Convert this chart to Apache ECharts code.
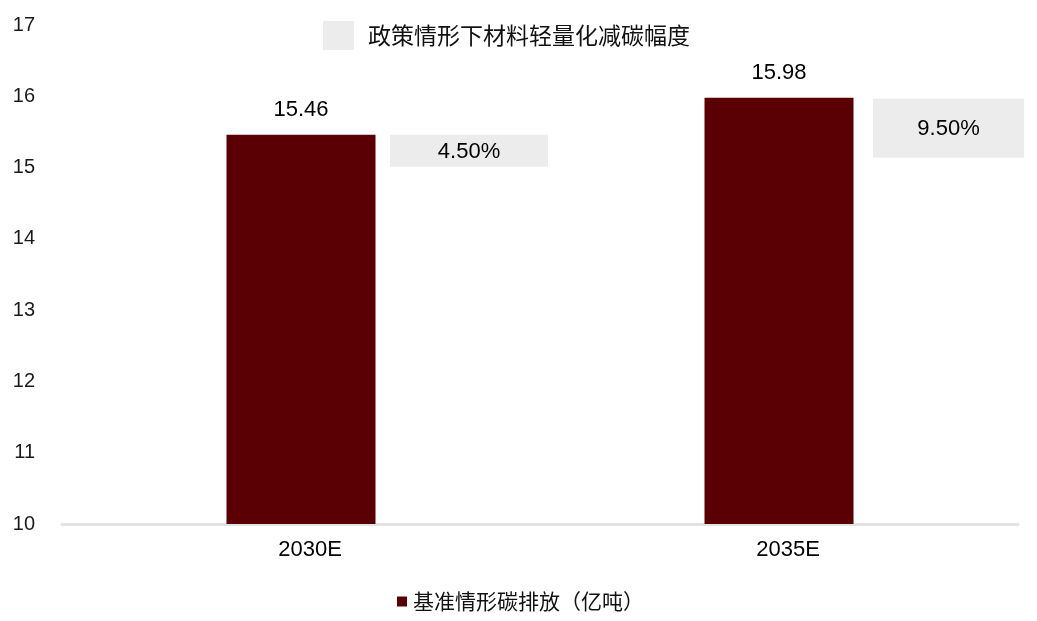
<!DOCTYPE html>
<html>
<head>
<meta charset="utf-8">
<script src="https://cdn.jsdelivr.net/npm/echarts@6/dist/echarts.min.js"></script>
<style>html,body{margin:0;padding:0;background:#fff;}#c{width:1037px;height:621px;}</style>
</head>
<body>
<div id="c"></div>
<script>
// ---- data ----
const categories = ['2030E', '2035E'];
const baselineEmission = [15.46, 15.98];        // 基准情形碳排放（亿吨）
const reductionPct = [4.5, 9.5];                 // 政策情形下材料轻量化减碳幅度 (%)
const yTicks = [10, 11, 12, 13, 14, 15, 16, 17];

const baseName = '基准情形碳排放（亿吨）';
const redName = '政策情形下材料轻量化减碳幅度';

// styling of the grey callout boxes (pixels, relative to bar top centre)
const boxOffX = [89, 94];
const boxDY = [0, 1];
const boxW = [158, 151];
const boxH = [32, 59];

const chart = echarts.init(document.getElementById('c'));
const numFont = '"Liberation Sans", Arial, sans-serif';
const cjkFont = '"Noto Sans CJK SC", sans-serif';

chart.setOption({
  animation: false,
  backgroundColor: '#fff',
  legend: [
    {
      data: [redName],
      left: 318, top: 16,
      icon: 'rect', itemWidth: 31, itemHeight: 29,
      textStyle: { fontFamily: cjkFont, fontSize: 23, color: '#111', padding: [6, 0, 0, 9] }
    },
    {
      data: [baseName],
      left: 392, top: 586,
      icon: 'rect', itemWidth: 10, itemHeight: 10, itemGap: 0,
      itemStyle: { borderWidth: 0 },
      textStyle: { fontFamily: cjkFont, fontSize: 21, color: '#111', padding: [0, 0, 0, 1] }
    }
  ],
  grid: { left: 62, right: 19, top: 25, bottom: 97, containLabel: false },
  xAxis: {
    type: 'category',
    data: categories,
    axisLine: { show: true, lineStyle: { color: '#e3e3e3', width: 3 } },
    axisTick: { show: false },
    axisLabel: { fontFamily: numFont, fontSize: 22, color: '#000', margin: 15, padding: [0, 0, 0, 18] }
  },
  yAxis: {
    type: 'value',
    min: yTicks[0], max: yTicks[yTicks.length - 1], interval: 1,
    axisLine: { show: false },
    axisTick: { show: false },
    splitLine: { show: false },
    axisLabel: { fontFamily: numFont, fontSize: 20, color: '#1a1a1a', margin: 27 }
  },
  series: [
    {
      name: baseName,
      type: 'bar',
      data: baselineEmission,
      barWidth: 149,
      itemStyle: { color: '#5a0005' },
      label: {
        show: true, position: 'top', distance: 14,
        fontFamily: numFont, fontSize: 22, color: '#000',
        formatter: p => p.value.toFixed(2)
      }
    },
    {
      name: redName,
      type: 'custom',
      itemStyle: { color: '#ececec' },
      encode: { x: 0, y: 1 },
      data: reductionPct.map((p, i) => [i, baselineEmission[i], p]),
      renderItem: function (params, api) {
        const i = api.value(0);
        const v = api.value(1);
        const p = api.value(2);
        const pt = api.coord([i, v]);
        const x = pt[0] + boxOffX[i];
        const y = pt[1] + boxDY[i];
        return {
          type: 'group',
          children: [
            { type: 'rect', shape: { x: x, y: y, width: boxW[i], height: boxH[i] }, style: { fill: '#ececec' } },
            {
              type: 'text',
              style: {
                text: p.toFixed(2) + '%',
                x: x + boxW[i] / 2, y: y + boxH[i] / 2 + 1,
                align: 'center', verticalAlign: 'middle',
                fontFamily: numFont, fontSize: 22, fill: '#000'
              }
            }
          ]
        };
      }
    }
  ]
});
</script>
</body>
</html>
